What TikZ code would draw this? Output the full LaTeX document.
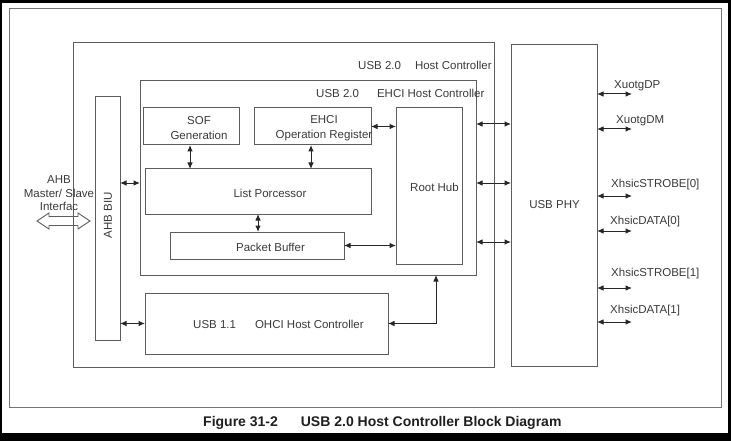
\documentclass[tikz,border=0pt]{standalone}
\usepackage{fontspec}
\setmainfont{Liberation Sans}
\usetikzlibrary{arrows.meta}

\definecolor{linec}{HTML}{5C5C5C}
\definecolor{textc}{HTML}{3A3A3A}
\tikzset{
  blk/.style={draw=linec, line width=1pt, inner sep=0pt, outer sep=0pt},
  txt/.style={text=textc, font=\fontsize{11.5}{15}\selectfont, inner sep=0pt, align=center},
  dbl/.style={draw=black!85, line width=1pt, {Latex[length=6.5pt,width=5.5pt]}-{Latex[length=6.5pt,width=5.5pt]}},
}

\begin{document}
\begin{tikzpicture}[x=1pt,y=-1pt]
  \useasboundingbox (0,0) rectangle (731,441);
  \fill[black] (0,0) rectangle (731,441);
  \fill[white] (2,3) rectangle (728,433);
  \draw[linec!85, line width=1pt] (9,9) rectangle (721,407);

  % blocks
  \node[blk, minimum width=421pt, minimum height=324pt] (host) at (283.5,205) {};
  \node[blk, minimum width=86pt, minimum height=321pt] (phy) at (554,205.5) {};
  \node[blk, minimum width=336pt, minimum height=194pt] (ehci) at (308,178) {};
  \node[blk, minimum width=25pt, minimum height=243pt] (biu) at (107.5,218.5) {};
  \node[blk, minimum width=96pt, minimum height=37pt] (sof) at (191,126.5) {};
  \node[blk, minimum width=117pt, minimum height=37pt] (opreg) at (312.5,126.5) {};
  \node[blk, minimum width=66pt, minimum height=156pt] (roothub) at (429,186) {};
  \node[blk, minimum width=226pt, minimum height=45pt] (listproc) at (258,191.5) {};
  \node[blk, minimum width=174pt, minimum height=27pt] (pktbuf) at (257,245.5) {};
  \node[blk, minimum width=243pt, minimum height=61pt] (ohci) at (266.5,323.5) {};

  % texts
  \node[txt, anchor=west] (hostlbl) at (358,65) {USB 2.0\hspace{14pt}Host Controller};
  \node[txt, anchor=west] (ehcilbl) at (316,93) {USB 2.0\hspace{18pt}EHCI Host Controller};
  \node[txt] (soflbl) at (199,128.5) {SOF\\Generation};
  \node[txt] (opreglbl) at (324,128.5) {EHCI\\Operation Register};
  \node[txt] (listlbl) at (270,193) {List Porcessor};
  \node[txt] (pktlbl) at (270.5,247) {Packet Buffer};
  \node[txt] (hublbl) at (434.5,187) {Root Hub};
  \node[txt, anchor=west] (ohcilbl) at (193,324) {USB 1.1\hspace{19pt}OHCI Host Controller};
  \node[txt] (phylbl) at (554.5,205) {USB PHY};
  \node[txt, rotate=90] (biulbl) at (108,215) {AHB BIU};
  \node[txt, font=\fontsize{11.5}{13.5}\selectfont] (ahblbl) at (59,193.5) {AHB\\Master/ Slave\\Interfac};

  % AHB master/slave interface
  \draw[linec, line width=0.9pt] (37,221) -- (49,213) -- (49,216.5) -- (78,216.5) -- (78,213)
    -- (90,221) -- (78,229) -- (78,225.5) -- (49,225.5) -- (49,229) -- cycle;

  % connections inside
  \draw[dbl] ([xshift=-1pt]sof.south) -- ([xshift=-1pt]sof.south |- listproc.north);
  \draw[dbl] ([xshift=-1.5pt]opreg.south) -- ([xshift=-1.5pt]opreg.south |- listproc.north);
  \draw[dbl] (listproc.south) -- (listproc.south |- pktbuf.north);
  \draw[dbl] (opreg.east) -- (opreg.east -| roothub.west);
  \draw[dbl] (pktbuf.east) -- (pktbuf.east -| roothub.west);
  \draw[dbl] (biu.east |- 0,183) -- (ehci.west |- 0,183);
  \draw[dbl] (biu.east |- ohci.west) -- (ohci.west);
  \draw[dbl] (ohci.east) -| (ehci.south -| 436,0);
  \foreach \y in {124,183,242}
    \draw[dbl] (ehci.east |- 0,\y) -- (phy.west |- 0,\y);

  % pins
  \foreach \ay/\ty/\lx/\txt in {94/86/614/XuotgDP, 129/121/616/XuotgDM,
      196/185/611/{XhsicSTROBE[0]}, 231/222/610/{XhsicDATA[0]},
      288/274/611/{XhsicSTROBE[1]}, 322/311/610/{XhsicDATA[1]}} {
    \coordinate (pin\ay) at (632,\ay);
    \draw[dbl] (phy.east |- pin\ay) -- (pin\ay);
    \node[txt, anchor=west] (pinlbl\ay) at (\lx,\ty) {\txt};
  }

  \node[anchor=west, inner sep=0pt, text=black!88, font=\bfseries\fontsize{14}{16}\selectfont] (caption)
    at (203,423) {Figure 31-2\hspace{23pt}USB 2.0 Host Controller Block Diagram};
\end{tikzpicture}
\end{document}
